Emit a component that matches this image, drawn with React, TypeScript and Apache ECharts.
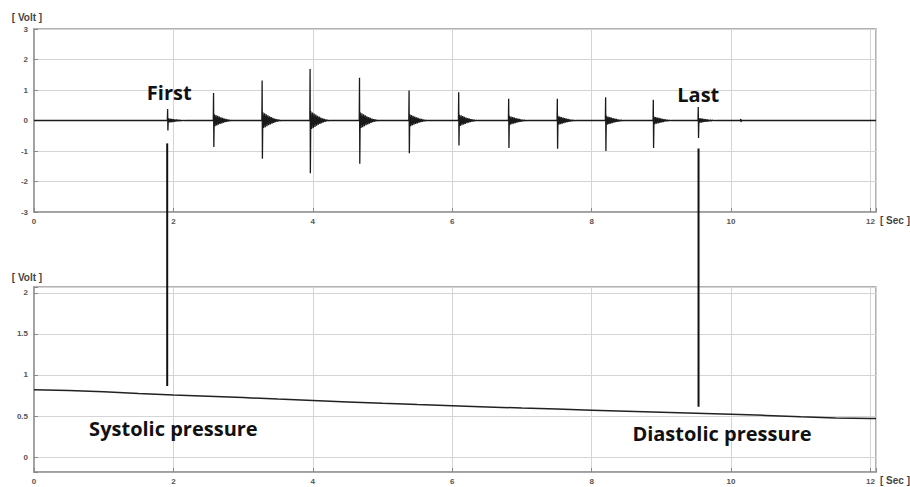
import React, { useEffect, useRef } from "react";
import * as echarts from "echarts";

// ---- data ----
const TIME_MAX = 12.08;
const xTickLabels = [0, 2, 4, 6, 8, 10, 12];

// top panel: oscillometric pulses (time in s, volts)
const pulseTimes = [1.917, 2.576, 3.273, 3.961, 4.67, 5.381, 6.093, 6.81, 7.508, 8.201, 8.885, 9.53];
const pulsePeaks = [0.38, 0.9, 1.31, 1.69, 1.4, 0.98, 0.93, 0.71, 0.71, 0.76, 0.68, 0.44];
const pulseTroughs = [-0.33, -0.87, -1.25, -1.73, -1.42, -1.07, -0.82, -0.9, -0.93, -1.0, -0.9, -0.57];
const tailAmps = [0.07, 0.2, 0.27, 0.3, 0.27, 0.2, 0.19, 0.15, 0.15, 0.15, 0.13, 0.08];
// normalised ringing after each beat, sampled every ~0.012 s
const tailShape = [1, -0.92, 0.88, -0.82, 0.76, -0.7, 0.64, -0.58, 0.52, -0.47, 0.42, -0.37, 0.32, -0.28, 0.24, -0.2, 0.17, -0.14, 0.11, -0.08, 0.06, -0.04, 0.02];
const blipTime = 10.14;
const blipValues = [0.05, -0.05];

// bottom panel: cuff pressure signal
const pressureTimes = [0, 0.5, 1, 1.5, 2, 2.5, 3, 3.5, 4, 4.5, 5, 5.5, 6, 6.5, 7, 7.5, 8, 8.5, 9, 9.5, 10, 10.5, 11, 11.5, 12, 12.08];
const pressureValues = [0.82, 0.812, 0.797, 0.775, 0.755, 0.742, 0.725, 0.707, 0.69, 0.672, 0.655, 0.64, 0.627, 0.612, 0.598, 0.585, 0.572, 0.56, 0.548, 0.535, 0.522, 0.508, 0.492, 0.478, 0.47, 0.47];

// markers linking the two panels: [time, value in top panel, value in bottom panel]
const firstMarker = [1.911, -0.75, 0.866];
const lastMarker = [9.534, -0.92, 0.613];

// annotations: [text, panel, time, value]
const annotations: [string, number, number, number][] = [
  ["First", 0, 1.94, 0.92],
  ["Last", 0, 9.53, 0.85],
  ["Systolic pressure", 1, 2.0, 0.354],
  ["Diastolic pressure", 1, 9.87, 0.293],
];

const yMin = [-3, -0.18];
const yMax = [3, 2.07];

function buildTop(): [number, number][] {
  const d: [number, number][] = [[0, 0]];
  pulseTimes.forEach((t, i) => {
    d.push([t - 0.004, 0]);
    d.push([t, pulsePeaks[i]]);
    d.push([t + 0.004, pulseTroughs[i]]);
    tailShape.forEach((s, k) => {
      d.push([t + 0.01 + k * 0.012, tailAmps[i] * s]);
    });
    d.push([t + 0.01 + tailShape.length * 0.012, 0]);
  });
  d.push([blipTime - 0.004, 0]);
  d.push([blipTime, blipValues[0]]);
  d.push([blipTime + 0.004, blipValues[1]]);
  d.push([blipTime + 0.008, 0]);
  d.push([TIME_MAX, 0]);
  return d;
}

export default function App() {
  const ref = useRef<HTMLDivElement>(null);
  useEffect(() => {
    if (!ref.current) return;
    const chart = echarts.init(ref.current, null, { renderer: "svg" });
    const labelStyle = { fontSize: 8, color: "#555", fontFamily: "Liberation Sans", fontWeight: "bold" as const };
    const xAxisBase = (gridIndex: number) => ({
      type: "value" as const,
      gridIndex,
      min: 0,
      max: TIME_MAX,
      interval: 2,
      axisLine: { show: true, onZero: false, lineStyle: { color: "#999", width: 1.5 } },
      axisTick: { show: true, inside: true, length: 4, lineStyle: { color: "#888" } },
      axisLabel: {
        ...labelStyle,
        margin: 5,
        formatter: (v: number) => (xTickLabels.includes(Math.round(v * 1000) / 1000) ? String(v) : ""),
      },
      splitLine: { show: true, lineStyle: { color: "#d4d4d4", width: 1 } },
    });
    chart.setOption({
      animation: false,
      grid: [
        { left: 34, right: 34, top: 29, height: 183, show: true, borderColor: "#999", borderWidth: 1.5 },
        { left: 34, right: 34, top: 287, height: 185, show: true, borderColor: "#999", borderWidth: 1.5 },
      ],
      xAxis: [xAxisBase(0), xAxisBase(1)],
      yAxis: [
        {
          type: "value",
          gridIndex: 0,
          min: yMin[0],
          max: yMax[0],
          interval: 1,
          axisLine: { show: true, onZero: false, lineStyle: { color: "#999", width: 1.5 } },
          axisTick: { show: true, inside: true, length: 4, lineStyle: { color: "#888" } },
          axisLabel: { ...labelStyle, margin: 6 },
          splitLine: { show: true, lineStyle: { color: "#d4d4d4", width: 1 } },
        },
        {
          type: "value",
          gridIndex: 1,
          min: yMin[1],
          max: yMax[1],
          axisLine: { show: true, onZero: false, lineStyle: { color: "#999", width: 1.5 } },
          axisTick: { show: true, inside: true, length: 4, lineStyle: { color: "#888" } },
          axisLabel: {
            ...labelStyle,
            margin: 6,
            formatter: (v: number) => {
              const r = Math.round(v * 100) / 100;
              return r >= 0 && r <= 2 && Math.abs(r * 2 - Math.round(r * 2)) < 1e-6 ? String(r) : "";
            },
          },
          splitLine: { show: true, lineStyle: { color: "#d4d4d4", width: 1 } },
        },
      ],
      series: [
        {
          type: "line",
          xAxisIndex: 0,
          yAxisIndex: 0,
          data: buildTop(),
          showSymbol: false,
          symbol: "none",
          lineStyle: { color: "#1a1a1a", width: 1.3 },
        },
        {
          type: "line",
          xAxisIndex: 1,
          yAxisIndex: 1,
          data: pressureTimes.map((t, i) => [t, pressureValues[i]]),
          showSymbol: false,
          symbol: "none",
          lineStyle: { color: "#222", width: 1.5 },
        },
      ],
    });

    const toPx = (panel: number, t: number, v: number) =>
      chart.convertToPixel({ xAxisIndex: panel, yAxisIndex: panel }, [t, v]) as number[];

    const graphics: any[] = [];
    [firstMarker, lastMarker].forEach((m) => {
      const a = toPx(0, m[0], m[1]);
      const b = toPx(1, m[0], m[2]);
      graphics.push({
        type: "line",
        shape: { x1: a[0], y1: a[1], x2: b[0], y2: b[1] },
        style: { stroke: "#111", lineWidth: 2 },
        z: 10,
      });
    });
    annotations.forEach(([text, panel, t, v]) => {
      const p = toPx(panel, t, v);
      graphics.push({
        type: "text",
        x: p[0],
        y: p[1],
        style: {
          text,
          fill: "#111",
          font: "bold 20px 'Open Sans'",
          textAlign: "center",
          textVerticalAlign: "middle",
        },
        z: 10,
      });
    });
    // axis unit names placed next to the axis ends
    const nameFont = "bold 10px 'Liberation Sans'";
    [0, 1].forEach((panel) => {
      const top = toPx(panel, 0, yMax[panel]);
      const end = toPx(panel, TIME_MAX, yMin[panel]);
      graphics.push({
        type: "text",
        x: top[0] - 7,
        y: top[1] - (panel === 0 ? 12 : 10),
        style: { text: "[ Volt ]", fill: "#444", font: nameFont, textAlign: "center", textVerticalAlign: "middle" },
      });
      graphics.push({
        type: "text",
        x: end[0] + 4,
        y: end[1] + 8,
        style: { text: "[ Sec ]", fill: "#444", font: nameFont, textAlign: "left", textVerticalAlign: "middle" },
      });
    });
    chart.setOption({ graphic: graphics });

    return () => chart.dispose();
  }, []);
  return (
    <div
      ref={ref}
      style={{ position: "fixed", left: 0, top: 0, width: 910, height: 487, background: "#fff" }}
    />
  );
}
